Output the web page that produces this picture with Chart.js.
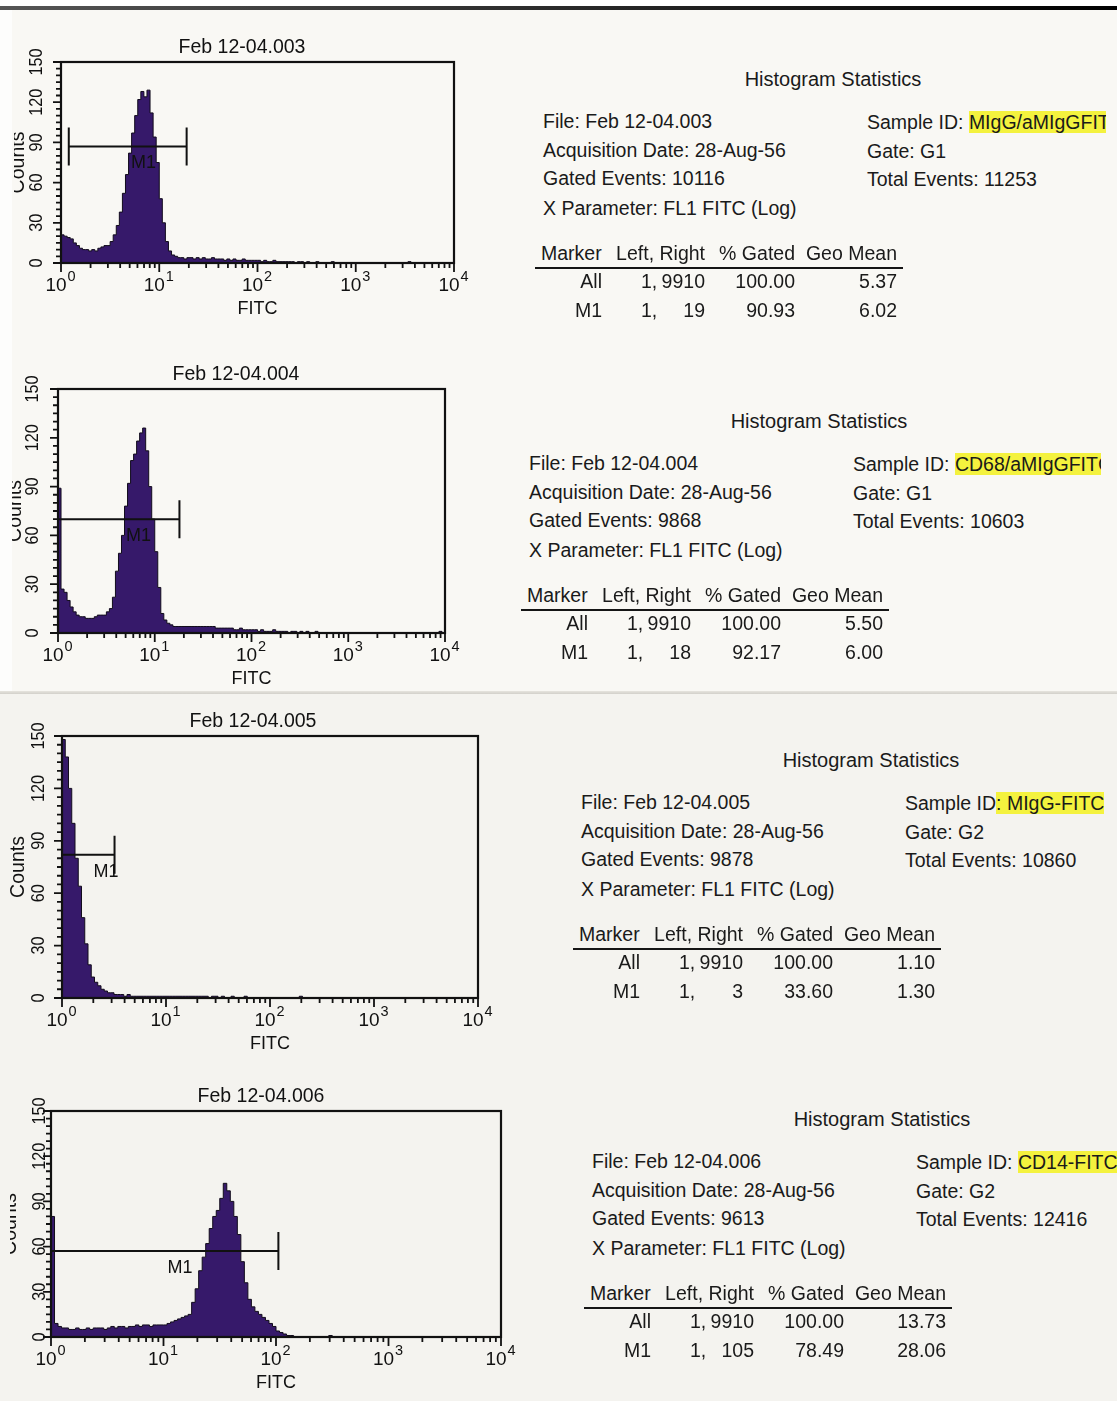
<!DOCTYPE html>
<html><head><meta charset="utf-8">
<script src="https://cdn.jsdelivr.net/npm/chart.js@4.4.1/dist/chart.umd.min.js"></script>
<style>
html,body{margin:0;padding:0;}
body{width:1117px;height:1401px;position:relative;overflow:hidden;background:#f9f8f4;font-family:"Liberation Sans",Arial,sans-serif;color:#1a1a1a;}
.abs{position:absolute;white-space:nowrap;line-height:22px;}
canvas{position:absolute;}
</style></head><body>
<script>
// ---------------- DATA ----------------
const panelTitles = ['Feb 12-04.003', 'Feb 12-04.004', 'Feb 12-04.005', 'Feb 12-04.006'];
const xTickValues = [1, 10, 100, 1000, 10000];
const xTickBase = ['10', '10', '10', '10', '10'];
const xTickExp = ['0', '1', '2', '3', '4'];
const yTickValues = [0, 30, 60, 90, 120, 150];
const yTickLabels = ['0', '30', '60', '90', '120', '150'];
const yAxisTitle = 'Counts';
const xAxisTitle = 'FITC';
const binsPerDecade = 32;

// counts per log bin (32 bins per decade, 10^0 .. 10^4)
const counts003 = [
  21,20,19,18,15,13,11,10, 10,9,10,9,11,12,13,13, 16,21,28,38,52,66,82,97, 110,122,128,124,129,112,94,75,
  48,30,16,9,6,5,4,4, 3,4,4,3,4,3,4,3, 3,4,3,3,3,2,3,2, 3,2,2,3,2,2,2,2,
  2,1,2,1,1,2,1,1, 1,1,1,1,0,1,1,0, 1,0,0,1,0,0,0,0, 1,0,0,0,0,0,0,0,
  0,0,0,0,0,0,0,0, 0,0,0,0,0,0,0,0, 0,1,0,0,0,0,0,0, 0,0,0,0,0,0,0,0
];
const counts004 = [
  89,27,25,20,16,13,11,10, 10,9,9,9,10,11,11,11, 13,15,22,38,49,60,78,92, 106,110,118,123,126,112,90,70,
  50,28,12,8,6,5,4,4, 4,4,4,4,4,4,4,4, 4,4,4,4,3,3,3,3, 3,3,2,2,3,2,2,2,
  2,2,1,2,1,1,1,2, 1,1,1,1,0,1,1,0, 1,0,1,0,0,1,0,0, 0,0,0,0,0,0,0,0,
  0,0,0,0,0,0,0,0, 0,0,0,0,0,0,0,0, 0,0,0,0,0,0,0,0, 0,0,0,0,0,0,1,0
];
const counts005 = [
  148,138,120,100,80,64,46,31, 19,12,9,7,5,4,3,3, 2,2,2,1,2,1,1,1, 1,1,1,1,1,1,1,1,
  1,1,1,1,1,1,1,1, 1,1,1,1,1,0,1,1, 0,1,0,0,1,0,0,0, 1,0,0,0,0,0,0,0,
  0,0,0,0,0,0,0,0, 0,1,0,0,0,0,0,0, 0,0,0,0,0,0,0,0, 0,0,0,0,0,0,0,0,
  0,0,0,0,0,0,0,0, 0,0,0,0,0,0,0,0, 0,0,0,0,0,0,0,0, 0,0,0,0,0,0,0,0
];
const counts006 = [
  80,9,7,6,6,5,5,6, 5,5,6,5,6,6,6,5, 6,7,6,7,7,6,7,7, 8,7,8,8,7,8,8,8,
  8,9,10,11,12,13,14,15, 23,32,44,53,62,72,80,84, 92,102,97,90,80,68,50,36, 25,20,17,15,13,11,9,7,
  4,3,2,1,1,0,0,0, 0,0,0,0,0,0,0,1, 0,0,0,0,0,0,0,0, 0,0,0,0,0,0,0,0,
  0,0,0,0,0,0,0,0, 0,0,0,0,0,0,0,0, 0,0,0,0,0,0,0,0, 0,0,0,0,0,0,0,0
];
const allCounts = [counts003, counts004, counts005, counts006];

const markerName = 'M1';
const markerLeft = [1.2, 1, 1, 1];
const markerRight = [19, 18, 3.2, 105];
const markerLevel = [87, 70, 82, 57];
const markerLabelAt = [6.9, 6.8, 2.65, 14];

// statistics text
const statHeading = 'Histogram Statistics';
const statFile = ['Feb 12-04.003', 'Feb 12-04.004', 'Feb 12-04.005', 'Feb 12-04.006'];
const statAcqDate = ['28-Aug-56', '28-Aug-56', '28-Aug-56', '28-Aug-56'];
const statGatedEvents = ['10116', '9868', '9878', '9613'];
const statXParam = ['FL1 FITC (Log)', 'FL1 FITC (Log)', 'FL1 FITC (Log)', 'FL1 FITC (Log)'];
const statSamplePre = ['Sample ID: ', 'Sample ID: ', 'Sample ID', 'Sample ID: '];
const statSampleHl = ['MIgG/aMIgGFITC', 'CD68/aMIgGFITC', ': MIgG-FITC', 'CD14-FITC'];
const statGate = ['G1', 'G1', 'G2', 'G2'];
const statTotalEvents = ['11253', '10603', '10860', '12416'];
const tableHeader = ['Marker', 'Left, Right', '% Gated', 'Geo Mean'];
const rowNames = ['All', 'M1'];
const rowLeft = [['1', '1'], ['1', '1'], ['1', '1'], ['1', '1']];
const rowRight = [['9910', '19'], ['9910', '18'], ['9910', '3'], ['9910', '105']];
const rowGated = [['100.00', '90.93'], ['100.00', '92.17'], ['100.00', '33.60'], ['100.00', '78.49']];
const rowGeoMean = [['5.37', '6.02'], ['5.50', '6.00'], ['1.10', '1.30'], ['13.73', '28.06']];

// ---------------- LAYOUT ----------------
const FONT = '"Liberation Sans", Arial, sans-serif';
const panels = [
  {clip:14, top:30,   L:61, R:454, T:62,   B:263,  tX:242, tY:48,   yLabX:37, cntX:19},
  {clip:12, top:355,  L:58, R:445, T:389,  B:633,  tX:236, tY:375,  yLabX:33, cntX:16},
  {clip:0,  top:700,  L:62, R:478, T:736,  B:998,  tX:253, tY:722,  yLabX:39, cntX:19},
  {clip:10, top:1078, L:51, R:501, T:1111, B:1337, tX:261, tY:1097, yLabX:40, cntX:11}
];
const statsPos = [
  {x0:543, yF:121, clipR:1106},
  {x0:529, yF:463, clipR:1101},
  {x0:581, yF:802, clipR:1117},
  {x0:592, yF:1161, clipR:1117}
];

// page decorations (scan edges)
function deco(css){ const d=document.createElement('div'); d.style.cssText='position:absolute;'+css; document.body.appendChild(d); }
deco('left:0;top:694px;width:1117px;height:707px;background:#f4f3ef;');
deco('left:0;top:691px;width:1117px;height:3px;background:linear-gradient(#e6e4de,#d2d0ca);');
deco('left:0;top:0;width:1117px;height:6px;background:#ffffff;');
deco('left:0;top:6px;width:1117px;height:4px;background:linear-gradient(to right,#555,#222 60%,#000);');
deco('left:0;top:10px;width:12px;height:681px;background:#fdfdfc;');

const facsPlugin = {
  id: 'facs',
  afterDraw(chart, args, o) {
    const {ctx, chartArea: a, scales: {x, y}} = chart;
    const ox = o.clip, oy = o.top;
    ctx.save();
    ctx.strokeStyle = '#111';
    ctx.fillStyle = '#111';
    // frame
    ctx.lineWidth = 2.2;
    ctx.strokeRect(a.left, a.top, a.right - a.left, a.bottom - a.top);
    // y ticks
    ctx.lineWidth = 1.8;
    ctx.beginPath();
    for (let v = 0; v <= 150; v += 5) {
      const py = y.getPixelForValue(v);
      const len = v % 30 === 0 ? 8 : 5;
      ctx.moveTo(a.left - len, py); ctx.lineTo(a.left, py);
    }
    // x ticks
    for (let k = 0; k < 4; k++) {
      for (let m = 1; m <= 9; m++) {
        const px = x.getPixelForValue(m * Math.pow(10, k));
        const len = m === 1 ? 9 : 5;
        ctx.moveTo(px, a.bottom); ctx.lineTo(px, a.bottom + len);
      }
    }
    const pxe = x.getPixelForValue(10000);
    ctx.moveTo(pxe, a.bottom); ctx.lineTo(pxe, a.bottom + 9);
    ctx.stroke();
    // x tick labels: 10 with raised exponent
    ctx.textBaseline = 'middle';
    ctx.textAlign = 'left';
    xTickValues.forEach((v, i) => {
      const px = x.getPixelForValue(v);
      ctx.font = '19px ' + FONT;
      const wb = ctx.measureText(xTickBase[i]).width;
      ctx.font = '14.5px ' + FONT;
      const we = ctx.measureText(xTickExp[i]).width;
      const x0 = px - (wb + we) / 2 - 1;
      ctx.font = '19px ' + FONT;
      ctx.fillText(xTickBase[i], x0, a.bottom + 23);
      ctx.font = '14.5px ' + FONT;
      ctx.fillText(xTickExp[i], x0 + wb + 1, a.bottom + 14);
    });
    // y tick labels, rotated
    ctx.font = '18px ' + FONT;
    ctx.textAlign = 'center';
    ctx.textBaseline = 'middle';
    yTickValues.forEach((v, i) => {
      const py = y.getPixelForValue(v);
      ctx.save();
      ctx.translate(o.yLabX - ox, py);
      ctx.rotate(-Math.PI / 2);
      ctx.scale(0.9, 1);
      ctx.fillText(yTickLabels[i], 0, 0);
      ctx.restore();
    });
    // y axis title
    ctx.save();
    ctx.font = '19.5px ' + FONT;
    ctx.translate(o.cntX - ox, (a.top + a.bottom) / 2);
    ctx.rotate(-Math.PI / 2);
    ctx.fillText(yAxisTitle, 0, 0);
    ctx.restore();
    // chart title
    ctx.font = '19.5px ' + FONT;
    ctx.fillText(o.title, o.tX - ox, o.tY - oy);
    // marker
    const xl = x.getPixelForValue(o.mL), xr = x.getPixelForValue(o.mR), ym = y.getPixelForValue(o.mLevel);
    ctx.lineWidth = 2;
    ctx.beginPath();
    ctx.moveTo(xl, ym); ctx.lineTo(xr, ym);
    ctx.moveTo(xl, ym - 19); ctx.lineTo(xl, ym + 19);
    ctx.moveTo(xr, ym - 19); ctx.lineTo(xr, ym + 19);
    ctx.stroke();
    ctx.font = '18px ' + FONT;
    ctx.fillText(markerName, x.getPixelForValue(o.mLab), ym + 17);
    ctx.restore();
  }
};

panels.forEach((p, k) => {
  const cv = document.createElement('canvas');
  const w = p.R + 30 - p.clip, h = p.B + 62 - p.top;
  cv.width = w; cv.height = h;
  cv.style.left = p.clip + 'px'; cv.style.top = p.top + 'px';
  cv.style.width = w + 'px'; cv.style.height = h + 'px';
  document.body.appendChild(cv);
  const counts = allCounts[k];
  const pts = counts.map((c, i) => ({x: Math.pow(10, i / binsPerDecade), y: c}));
  pts.push({x: 10000, y: counts[counts.length - 1]});
  new Chart(cv, {
    type: 'line',
    data: {datasets: [{data: pts, stepped: true, fill: 'origin', backgroundColor: '#36196a', borderColor: '#120c1c', borderWidth: 1, pointRadius: 0}]},
    options: {
      responsive: false, animation: false, events: [],
      layout: {padding: {left: 0, top: p.T - p.top, right: 30, bottom: 2}},
      plugins: {
        legend: {display: false}, tooltip: {enabled: false}, title: {display: false},
        facs: {clip: p.clip, top: p.top, yLabX: p.yLabX, cntX: p.cntX, tX: p.tX, tY: p.tY, title: panelTitles[k],
               mL: markerLeft[k], mR: markerRight[k], mLevel: markerLevel[k], mLab: markerLabelAt[k]}
      },
      scales: {
        x: {
          type: 'logarithmic', min: 1, max: 10000,
          afterBuildTicks(s) { s.ticks = xTickValues.map(v => ({value: v})); },
          afterFit(s) { s.height = 60; },
          grid: {display: false, drawTicks: false}, border: {display: false},
          ticks: {display: false},
          title: {display: true, text: xAxisTitle, color: '#111', font: {family: FONT, size: 18}, padding: {top: 0, bottom: 3}}
        },
        y: {
          min: 0, max: 150,
          afterFit(s) { s.width = p.L - p.clip; },
          ticks: {display: false}, grid: {display: false}, border: {display: false}
        }
      }
    },
    plugins: [facsPlugin]
  });
});

// ---------------- STATISTICS TEXT ----------------
function put(text, left, yc, extra) {
  const d = document.createElement('div');
  d.className = 'abs';
  d.style.left = left + 'px';
  d.style.top = (yc - 11) + 'px';
  d.style.fontSize = '19.5px';
  if (extra) d.style.cssText += extra;
  d.textContent = text;
  document.body.appendChild(d);
  return d;
}
function putRight(text, right, yc) {
  return put(text, right - 300, yc, 'width:300px;text-align:right;');
}
statsPos.forEach((s, k) => {
  const x0 = s.x0, yF = s.yF;
  put(statHeading, x0 + 190, yF - 42, 'width:200px;text-align:center;font-size:20px;');
  put('File: ' + statFile[k], x0, yF);
  put('Acquisition Date: ' + statAcqDate[k], x0, yF + 29);
  put('Gated Events: ' + statGatedEvents[k], x0, yF + 57);
  put('X Parameter: ' + statXParam[k], x0, yF + 87);
  const sd = put('', x0 + 324, yF + 1, 'overflow:hidden;width:' + (s.clipR - x0 - 324) + 'px;');
  sd.appendChild(document.createTextNode(statSamplePre[k]));
  const hl = document.createElement('span');
  hl.textContent = statSampleHl[k];
  hl.style.cssText = 'background:#f4f23e;padding:3px 0 3px 0;';
  sd.appendChild(hl);
  put('Gate: ' + statGate[k], x0 + 324, yF + 30);
  put('Total Events: ' + statTotalEvents[k], x0 + 324, yF + 58);
  // table
  const hy = yF + 132;
  put(tableHeader[0], x0 - 2, hy);
  putRight(tableHeader[1], x0 + 162, hy);
  putRight(tableHeader[2], x0 + 252, hy);
  putRight(tableHeader[3], x0 + 354, hy);
  deco('left:' + (x0 - 8) + 'px;top:' + (yF + 146) + 'px;width:368px;height:2px;background:#151515;');
  rowNames.forEach((r, j) => {
    const ry = yF + 160 + j * 29;
    putRight(r, x0 + 59, ry);
    put(rowLeft[k][j] + ',', x0 + 98, ry);
    putRight(rowRight[k][j], x0 + 162, ry);
    putRight(rowGated[k][j], x0 + 252, ry);
    putRight(rowGeoMean[k][j], x0 + 354, ry);
  });
});
</script>
</body></html>
